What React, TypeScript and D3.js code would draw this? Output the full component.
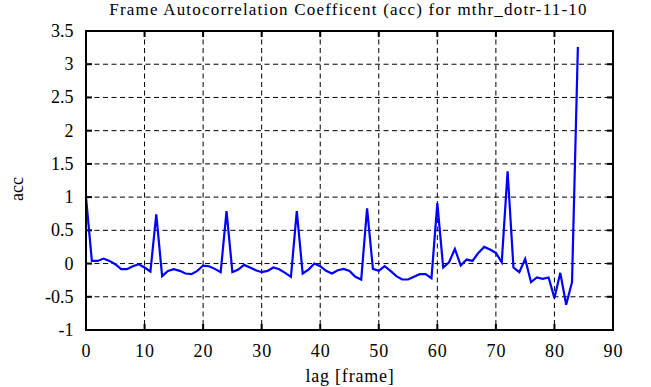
import React from 'react';
import { scaleLinear, line, range } from 'd3';

const lags = range(0, 85);
const acc = [
  1.0, 0.04, 0.04, 0.075, 0.04, -0.01, -0.085, -0.085, -0.04, -0.01,
  -0.06, -0.12, 0.74, -0.19, -0.11, -0.085, -0.11, -0.15, -0.16, -0.11,
  -0.03, -0.04, -0.08, -0.13, 0.79, -0.13, -0.09, -0.02, -0.06, -0.1,
  -0.13, -0.11, -0.06, -0.085, -0.14, -0.2, 0.79, -0.15, -0.09, 0.0,
  -0.04, -0.11, -0.15, -0.1, -0.08, -0.11, -0.2, -0.24, 0.83, -0.08,
  -0.11, -0.04, -0.11, -0.19, -0.24, -0.24, -0.2, -0.16, -0.16, -0.22,
  0.91, -0.06, 0.02, 0.22, -0.03, 0.06, 0.04, 0.16, 0.25, 0.21,
  0.16, 0.02, 1.39, -0.06, -0.13, 0.07, -0.28, -0.21, -0.23, -0.21,
  -0.52, -0.14, -0.62, -0.28, 3.26,
];
const xTicks = [0, 10, 20, 30, 40, 50, 60, 70, 80, 90];
const yTicks = [-1, -0.5, 0, 0.5, 1, 1.5, 2, 2.5, 3, 3.5];

const title = 'Frame Autocorrelation Coefficent (acc) for mthr_dotr-11-10';
const font = "'Liberation Serif', 'Times New Roman', serif";

const App = () => {
  const width = 651;
  const height = 387;
  const margin = { top: 31, right: 38, bottom: 57, left: 86 };
  const innerW = width - margin.left - margin.right;
  const innerH = height - margin.top - margin.bottom;

  const x = scaleLinear().domain([0, 90]).range([0, innerW]);
  const y = scaleLinear().domain([-1, 3.5]).range([innerH, 0]);

  const path = line<number>()
    .x((_, i) => x(lags[i]))
    .y((d) => y(d))(acc);

  const txt = { fontFamily: font, fill: '#000' };

  return (
    <svg
      width={width}
      height={height}
      style={{ position: 'absolute', left: 0, top: 0, background: '#fff' }}
    >
      <text x={margin.left + innerW / 2 - 1} y={14.5} textAnchor="middle" fontSize={17}
        letterSpacing={1.2} style={txt}>
        {title}
      </text>
      <g transform={`translate(${margin.left},${margin.top})`}>
        {/* grid */}
        {xTicks.slice(1, -1).map((t) => (
          <line key={'gx' + t} x1={x(t)} x2={x(t)} y1={0} y2={innerH}
            stroke="#000" strokeWidth={1} strokeDasharray="5,3.5" />
        ))}
        {yTicks.slice(1, -1).map((t) => (
          <line key={'gy' + t} x1={0} x2={innerW} y1={y(t)} y2={y(t)}
            stroke="#000" strokeWidth={1} strokeDasharray="5,3.5" />
        ))}
        {/* ticks */}
        {xTicks.map((t) => (
          <g key={'tx' + t}>
            <line x1={x(t)} x2={x(t)} y1={innerH} y2={innerH - 6} stroke="#000" strokeWidth={2} />
            <line x1={x(t)} x2={x(t)} y1={0} y2={6} stroke="#000" strokeWidth={2} />
            <text x={x(t) + 0.5} y={innerH + 27} textAnchor="middle" fontSize={18}
              letterSpacing={1} style={txt}>{t}</text>
          </g>
        ))}
        {yTicks.map((t) => (
          <g key={'ty' + t}>
            <line x1={0} x2={6} y1={y(t)} y2={y(t)} stroke="#000" strokeWidth={2} />
            <line x1={innerW} x2={innerW - 6} y1={y(t)} y2={y(t)} stroke="#000" strokeWidth={2} />
            <text x={-12.5} y={y(t) + 6} textAnchor="end" fontSize={18} style={txt}>{t}</text>
          </g>
        ))}
        <path d={path ?? ''} fill="none" stroke="#0000ff" strokeWidth={2.2} strokeLinejoin="miter" />
        <rect x={0} y={0} width={innerW} height={innerH} fill="none" stroke="#000" strokeWidth={2} />
      </g>
      <text x={350} y={382} textAnchor="middle" fontSize={18} letterSpacing={0.8} style={txt}>
        lag [frame]
      </text>
      <text transform="translate(23,189) rotate(-90)" textAnchor="middle" fontSize={18} style={txt}>
        acc
      </text>
    </svg>
  );
};

export default App;
